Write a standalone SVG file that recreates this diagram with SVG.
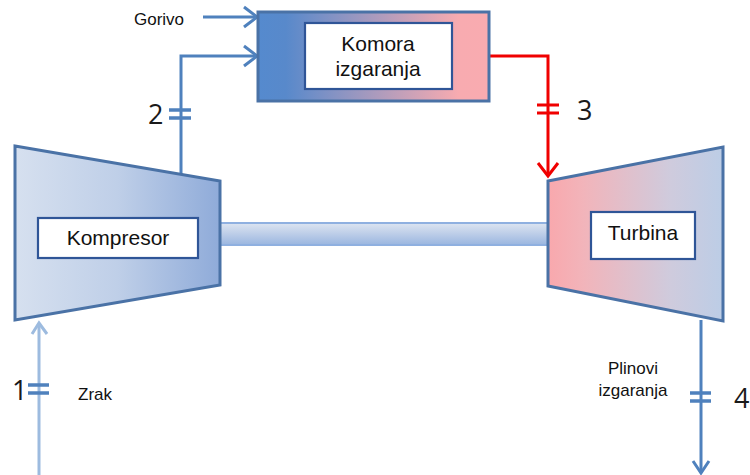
<svg xmlns="http://www.w3.org/2000/svg" width="750" height="475" viewBox="0 0 750 475">
<style>
.lbl{font-family:"Liberation Sans",Arial,sans-serif;fill:#111}
.s{font-size:17px}
.m{font-size:21px}
.n{font-family:"Open Sans","Noto Sans",sans-serif;font-size:27px;fill:#1a1a1a}
.box{fill:#fff;stroke:#2f5597;stroke-width:2.2}
.shape{stroke:#4a72a6;stroke-width:3;stroke-linejoin:miter}
.w{fill:none;stroke:#4f81bd;stroke-width:3}
.r{fill:none;stroke:#f00000;stroke-width:3}
.a{fill:none;stroke:#9dbbdf;stroke-width:3}
.t{fill:none;stroke:#4f81bd;stroke-width:3.4}
</style>
<defs>
<linearGradient id="gc" x1="0" x2="1" y1="0" y2="0"><stop offset="0" stop-color="#558ace"/><stop offset=".12" stop-color="#5889cb"/><stop offset=".87" stop-color="#f8abb0"/><stop offset="1" stop-color="#f9abb0"/></linearGradient>
<linearGradient id="gk" x1="0" x2="1" y1="0" y2="0"><stop offset="0" stop-color="#d6e0ef"/><stop offset=".5" stop-color="#bfcfe8"/><stop offset="1" stop-color="#8fabd9"/></linearGradient>
<linearGradient id="gt" x1="0" x2="1" y1="0" y2="0"><stop offset="0" stop-color="#f9a8ad"/><stop offset=".2" stop-color="#f2b4ba"/><stop offset=".7" stop-color="#cfcbdd"/><stop offset="1" stop-color="#bccde6"/></linearGradient>
<linearGradient id="gs" x1="0" x2="0" y1="0" y2="1"><stop offset="0" stop-color="#dde5f1"/><stop offset=".5" stop-color="#bccde8"/><stop offset="1" stop-color="#9ab6e0"/></linearGradient>
</defs>
<g id="shaft"><rect x="220" y="223" width="329" height="22" fill="url(#gs)" stroke="#8fb0e0" stroke-width="2"/></g>
<g id="connectors">
<path class="w" d="M181 176V56H256"/>
<path class="w" d="M244 46L257 56L244 66"/>
<path class="w" d="M203 17H256"/>
<path class="w" d="M244 7L257 17L244 27"/>
<path class="t" d="M169 110H191M169 118H191"/>
<path class="r" d="M489 56H548V176"/>
<path class="r" d="M538 163L548 176L558 163"/>
<path class="r" stroke-width="3.4" d="M537 105H559M537 113H559"/>
<path class="a" d="M39 323V475"/>
<path class="a" d="M32 334L39 323L47 334"/>
<path class="t" d="M28 385H49M28 393H49"/>
<path class="w" d="M701 320V473"/>
<path class="w" d="M693 461L701 473L709 461"/>
<path class="t" d="M690 393H711M690 401H711"/>
</g>
<g id="kompresor">
<path class="shape" fill="url(#gk)" d="M15 146L220 181V285L15 320Z"/>
<rect class="box" x="38" y="218" width="160" height="40"/>
<text class="lbl m" x="118" y="245" text-anchor="middle">Kompresor</text>
</g>
<g id="turbina">
<path class="shape" fill="url(#gt)" d="M548 181L723 147V321L548 286Z"/>
<rect class="box" x="591" y="212" width="104" height="47"/>
<text class="lbl m" x="643" y="240" text-anchor="middle">Turbina</text>
</g>
<g id="komora">
<rect class="shape" fill="url(#gc)" x="258" y="12" width="231" height="89"/>
<rect class="box" x="305" y="23" width="147" height="66"/>
<text class="lbl m" x="378" y="51" text-anchor="middle">Komora</text>
<text class="lbl m" x="378" y="76" text-anchor="middle">izgaranja</text>
</g>
<g id="labels">
<text class="lbl s" x="134" y="25">Gorivo</text>
<text class="lbl s" x="78" y="400">Zrak</text>
<text class="lbl s" x="633" y="374" text-anchor="middle">Plinovi</text>
<text class="lbl s" x="633" y="396" text-anchor="middle">izgaranja</text>
<text class="n" x="148" y="124">2</text>
<text class="n" x="577" y="120">3</text>
<text class="n" x="12" y="400">1</text>
<text class="n" x="734" y="408">4</text>
</g>
</svg>
